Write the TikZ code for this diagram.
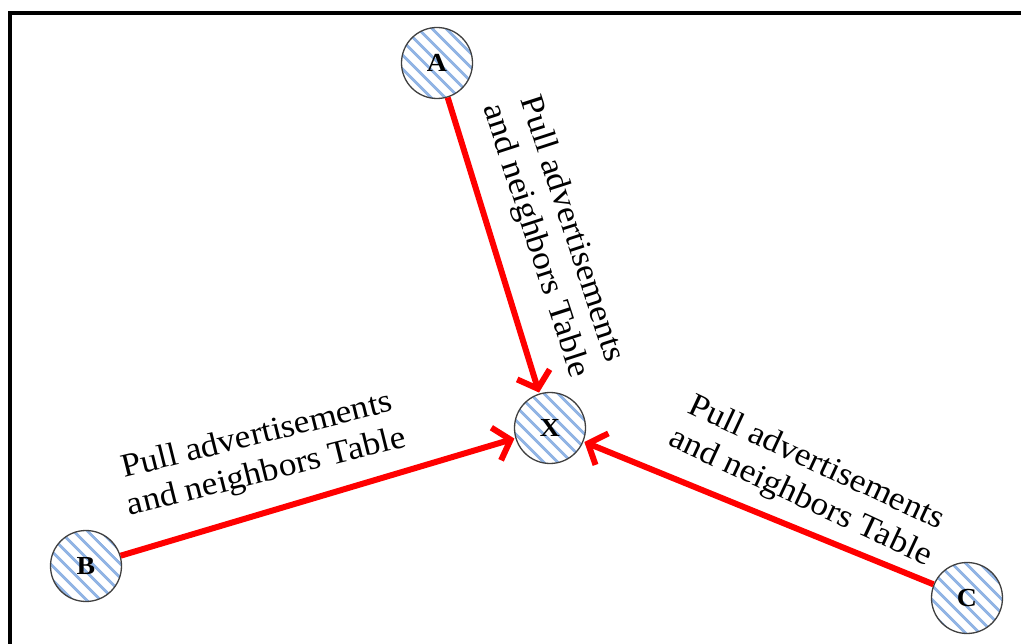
\documentclass[tikz,border=0pt]{standalone}
\usepackage{fontspec}
\setmainfont[FakeStretch=1.07]{Liberation Serif}
\usetikzlibrary{arrows.meta, patterns.meta}

\definecolor{stripeblue}{RGB}{145,180,228}

\begin{document}
\begin{tikzpicture}[x=1pt, y=-1pt,
    peer/.style={circle, draw=black!75, line width=1.3pt, minimum size=71pt, inner sep=0pt,
        pattern={Lines[angle=-45, distance=10.5pt, line width=3.2pt]}, pattern color=stripeblue,
        font=\bfseries\fontsize{26}{26}\selectfont},
    pull/.style={draw=red, line width=6pt, -{Straight Barb[length=15pt, width=34pt, line width=6pt]}},
    msg/.style={align=center, inner sep=0pt, font=\fontsize{33}{38}\selectfont}]
    \useasboundingbox (0,0) rectangle (1021,644);
    \clip (0,0) rectangle (1021,644);
    \fill[white] (0,0) rectangle (1021,644);
    \draw[line width=4pt] (9.5,700) -- (9.5,13) -- (1100,13);

    \node[peer] (x) at (550,428) {X};
    \node[peer] (a) at (437,63) {A};
    \node[peer] (b) at (86,566) {B};
    \node[peer] (c) at (967,598) {C};

    \draw[pull] (a) -- (x);
    \draw[pull] (b) -- (x);
    \draw[pull] (c) -- (x);

    \node[msg, rotate=-72] (la) at (553,235) {Pull advertisements\\and neighbors Table};
    \node[msg, rotate=14] (lb) at (262,455) {Pull advertisements\\and neighbors Table};
    \node[msg, rotate=-25] (lc) at (808,481) {Pull advertisements\\and neighbors Table};
\end{tikzpicture}
\end{document}
